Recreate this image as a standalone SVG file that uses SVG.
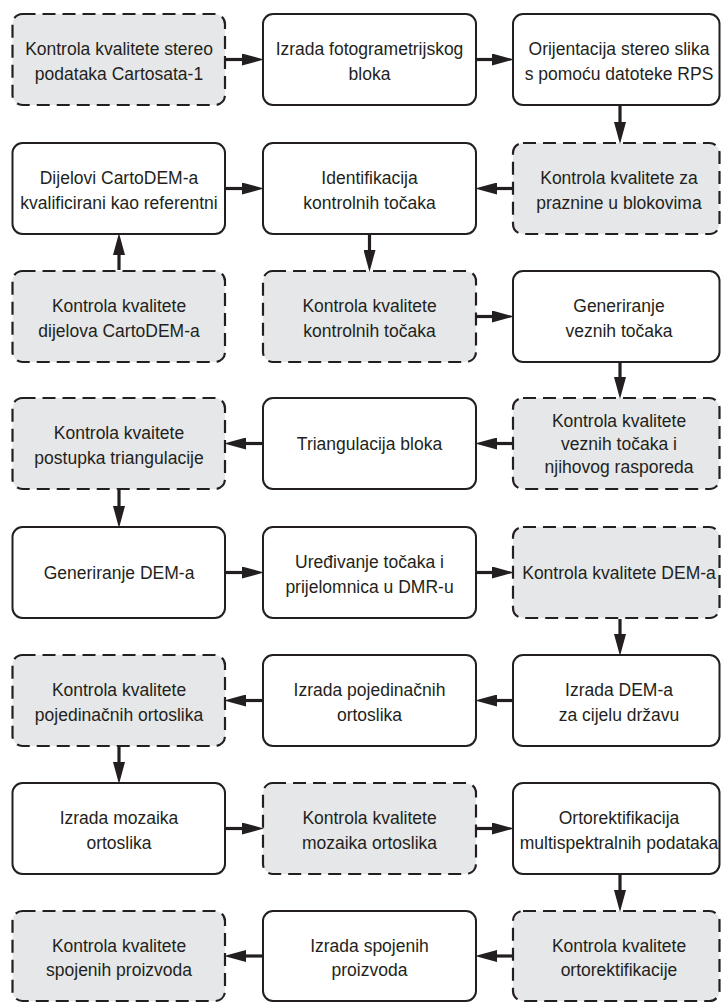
<svg xmlns="http://www.w3.org/2000/svg" width="721" height="1003" viewBox="0 0 721 1003">
<style>
.box{fill:#ffffff;stroke:#231f20;stroke-width:2}
.qc{fill:#e6e7e8;stroke:#231f20;stroke-width:2.2;stroke-dasharray:13 7}
text{font-family:"Liberation Sans",Arial,sans-serif;font-size:17.5px;fill:#231f20;text-anchor:middle}
.con line{stroke:#231f20;stroke-width:3.2;marker-end:url(#ah)}
</style>
<defs>
<marker id="ah" markerUnits="userSpaceOnUse" markerWidth="22" markerHeight="12" refX="10" refY="6" orient="auto">
<path d="M0,0 L22,6 L0,12 z" fill="#231f20"/>
</marker>
</defs>
<rect width="721" height="1003" fill="#ffffff"/>

<g id="n1"><rect class="qc" x="12.5" y="14" width="212.5" height="91" rx="10"/><text x="119" y="55">Kontrola kvalitete stereo<tspan x="119" dy="24.5">podataka Cartosata-1</tspan></text></g>
<g id="n2"><rect class="box" x="263" y="14" width="213" height="91" rx="10"/><text x="369.5" y="55">Izrada fotogrametrijskog<tspan x="369.5" dy="24.5">bloka</tspan></text></g>
<g id="n3"><rect class="box" x="513" y="14" width="206.5" height="91" rx="10"/><text x="619" y="55">Orijentacija stereo slika<tspan x="619" dy="24.5">s pomoću datoteke RPS</tspan></text></g>

<g id="n4"><rect class="box" x="12.5" y="143" width="212.5" height="91" rx="10"/><text x="119" y="184">Dijelovi CartoDEM-a<tspan x="119" dy="24.5">kvalificirani kao referentni</tspan></text></g>
<g id="n5"><rect class="box" x="263" y="143" width="213" height="91" rx="10"/><text x="369.5" y="184">Identifikacija<tspan x="369.5" dy="24.5">kontrolnih točaka</tspan></text></g>
<g id="n6"><rect class="qc" x="513" y="143" width="206.5" height="91" rx="10"/><text x="619" y="184">Kontrola kvalitete za<tspan x="619" dy="24.5">praznine u blokovima</tspan></text></g>

<g id="n7"><rect class="qc" x="12.5" y="271" width="212.5" height="91" rx="10"/><text x="119" y="312">Kontrola kvalitete<tspan x="119" dy="24.5">dijelova CartoDEM-a</tspan></text></g>
<g id="n8"><rect class="qc" x="263" y="271" width="213" height="91" rx="10"/><text x="369.5" y="312">Kontrola kvalitete<tspan x="369.5" dy="24.5">kontrolnih točaka</tspan></text></g>
<g id="n9"><rect class="box" x="513" y="271" width="206.5" height="91" rx="10"/><text x="619" y="312">Generiranje<tspan x="619" dy="24.5">veznih točaka</tspan></text></g>

<g id="n10"><rect class="qc" x="12.5" y="398" width="212.5" height="91" rx="10"/><text x="119" y="439">Kontrola kvaitete<tspan x="119" dy="24.5">postupka triangulacije</tspan></text></g>
<g id="n11"><rect class="box" x="263" y="398" width="213" height="91" rx="10"/><text x="369.5" y="450">Triangulacija bloka</text></g>
<g id="n12"><rect class="qc" x="513" y="398" width="206.5" height="91" rx="10"/><text x="619" y="426.5">Kontrola kvalitete<tspan x="619" dy="23.3">veznih točaka i</tspan><tspan x="619" dy="23.3">njihovog rasporeda</tspan></text></g>

<g id="n13"><rect class="box" x="12.5" y="527" width="212.5" height="91" rx="10"/><text x="119" y="579">Generiranje DEM-a</text></g>
<g id="n14"><rect class="box" x="263" y="527" width="213" height="91" rx="10"/><text x="369.5" y="568">Uređivanje točaka i<tspan x="369.5" dy="24.5">prijelomnica u DMR-u</tspan></text></g>
<g id="n15"><rect class="qc" x="513" y="527" width="206.5" height="91" rx="10"/><text x="619" y="579">Kontrola kvalitete DEM-a</text></g>

<g id="n16"><rect class="qc" x="12.5" y="655" width="212.5" height="91" rx="10"/><text x="119" y="696">Kontrola kvalitete<tspan x="119" dy="24.5">pojedinačnih ortoslika</tspan></text></g>
<g id="n17"><rect class="box" x="263" y="655" width="213" height="91" rx="10"/><text x="369.5" y="696">Izrada pojedinačnih<tspan x="369.5" dy="24.5">ortoslika</tspan></text></g>
<g id="n18"><rect class="box" x="513" y="655" width="206.5" height="91" rx="10"/><text x="619" y="696">Izrada DEM-a<tspan x="619" dy="24.5">za cijelu državu</tspan></text></g>

<g id="n19"><rect class="box" x="12.5" y="783" width="212.5" height="91" rx="10"/><text x="119" y="824">Izrada mozaika<tspan x="119" dy="24.5">ortoslika</tspan></text></g>
<g id="n20"><rect class="qc" x="263" y="783" width="213" height="91" rx="10"/><text x="369.5" y="824">Kontrola kvalitete<tspan x="369.5" dy="24.5">mozaika ortoslika</tspan></text></g>
<g id="n21"><rect class="box" x="513" y="783" width="206.5" height="91" rx="10"/><text x="619" y="824">Ortorektifikacija<tspan x="619" dy="24.5">multispektralnih podataka</tspan></text></g>

<g id="n22"><rect class="qc" x="12.5" y="911" width="212.5" height="90" rx="10"/><text x="119" y="951.5">Kontrola kvalitete<tspan x="119" dy="24.5">spojenih proizvoda</tspan></text></g>
<g id="n23"><rect class="box" x="263" y="911" width="213" height="90" rx="10"/><text x="369.5" y="951.5">Izrada spojenih<tspan x="369.5" dy="24.5">proizvoda</tspan></text></g>
<g id="n24"><rect class="qc" x="513" y="911" width="206.5" height="90" rx="10"/><text x="619" y="951.5">Kontrola kvalitete<tspan x="619" dy="24.5">ortorektifikacije</tspan></text></g>

<g id="connectors" class="con">
<line x1="226" y1="59.5" x2="252" y2="59.5"/>
<line x1="477" y1="59.5" x2="502" y2="59.5"/>
<line x1="620" y1="106" x2="620" y2="132"/>
<line x1="226" y1="188.5" x2="252" y2="188.5"/>
<line x1="512" y1="188.5" x2="487" y2="188.5"/>
<line x1="369.5" y1="235" x2="369.5" y2="260"/>
<line x1="119" y1="270" x2="119" y2="245"/>
<line x1="477" y1="316.5" x2="502" y2="316.5"/>
<line x1="620" y1="363" x2="620" y2="387"/>
<line x1="512" y1="443.5" x2="487" y2="443.5"/>
<line x1="262" y1="443.5" x2="236" y2="443.5"/>
<line x1="119" y1="490" x2="119" y2="516"/>
<line x1="226" y1="572.5" x2="252" y2="572.5"/>
<line x1="477" y1="572.5" x2="502" y2="572.5"/>
<line x1="620" y1="619" x2="620" y2="644"/>
<line x1="512" y1="700.5" x2="487" y2="700.5"/>
<line x1="262" y1="700.5" x2="236" y2="700.5"/>
<line x1="119" y1="747" x2="119" y2="772"/>
<line x1="226" y1="828.5" x2="252" y2="828.5"/>
<line x1="477" y1="828.5" x2="502" y2="828.5"/>
<line x1="620" y1="875" x2="620" y2="900"/>
<line x1="512" y1="956" x2="487" y2="956"/>
<line x1="262" y1="956" x2="236" y2="956"/>
</g>
</svg>
